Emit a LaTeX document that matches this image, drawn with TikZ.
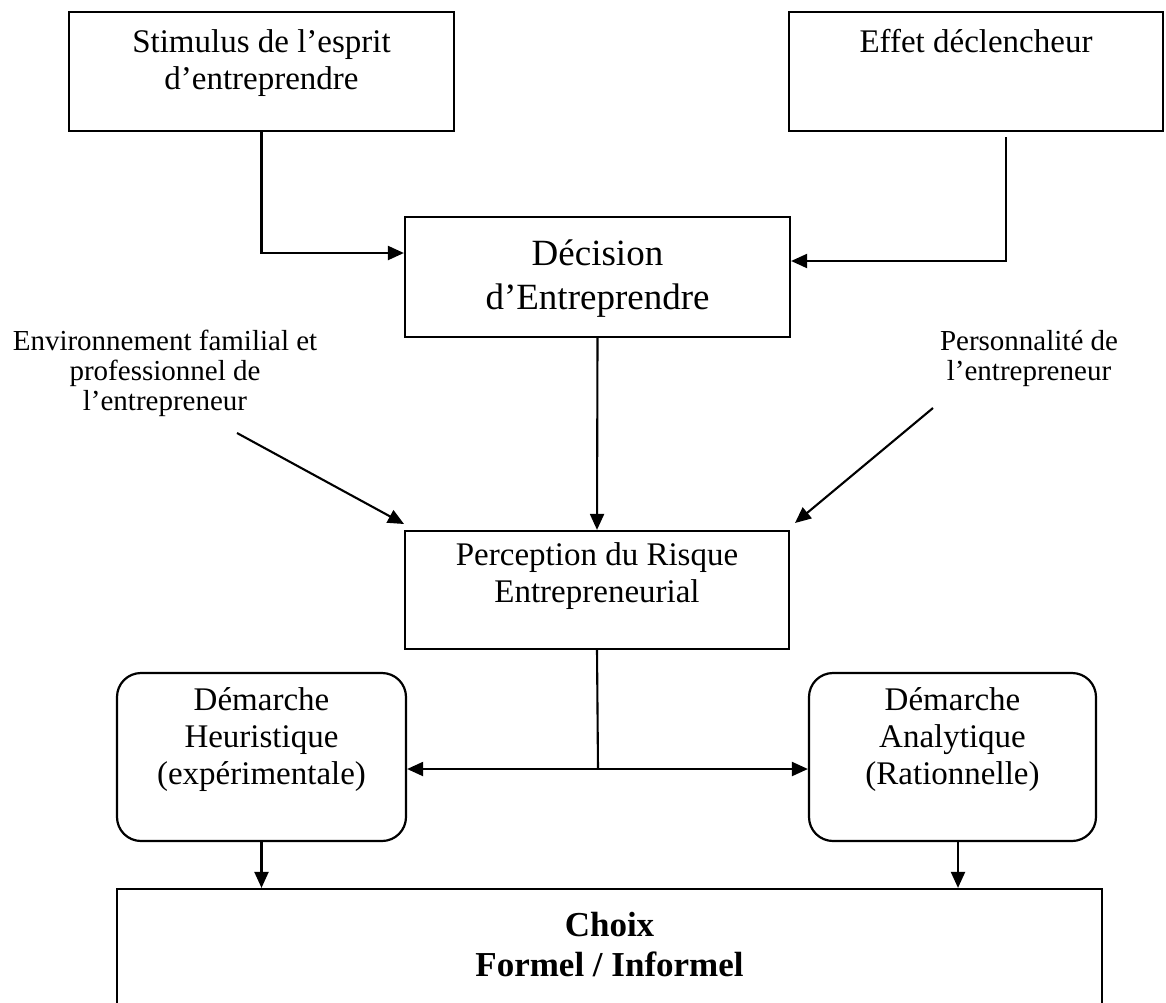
\documentclass[tikz,border=0pt]{standalone}
\usepackage{fontspec}
\setmainfont{Liberation Serif}
\usetikzlibrary{arrows.meta}
\begin{document}
\begin{tikzpicture}[x=1pt,y=-1pt,
  >={Triangle[length=16pt,width=14pt]},
  box/.style={draw, line width=2.2pt, inner sep=0pt},
  rbox/.style={box, rounded corners=24pt},
  txt/.style={inner sep=0pt, align=center, font=\fontsize{33}{37}\selectfont},
  bigtxt/.style={inner sep=0pt, align=center, font=\fontsize{37}{44}\selectfont},
  sidetxt/.style={inner sep=0pt, align=center, font=\fontsize{29}{30}\selectfont},
  boldtxt/.style={inner sep=0pt, align=center, font=\bfseries\fontsize{35}{40}\selectfont},
  conn/.style={line width=2.1pt},
  arr/.style={conn, ->}
]
\path[use as bounding box, clip] (0,0) rectangle (1166,1002);

% boxes
\node[box, minimum width=385pt, minimum height=119pt] (s1) at (261.5,71.5) {};
\node[box, minimum width=374pt, minimum height=119pt] (b2) at (976,71.5) {};
\node[box, minimum width=385pt, minimum height=120pt] (dec) at (597.5,277) {};
\node[box, minimum width=384pt, minimum height=118pt] (per) at (597,590) {};
\node[rbox, minimum width=289pt, minimum height=168pt] (heu) at (261.5,757) {};
\node[rbox, minimum width=287pt, minimum height=168pt] (ana) at (952.5,757) {};
\node[box, minimum width=985pt, minimum height=121pt] (choix) at (609.5,949.5) {};

% texts
\node[txt] (t1) at (261.5,63) {Stimulus de l’esprit\\d’entreprendre};
\node[txt, anchor=base] (t2) at (976,52) {Effet déclencheur};
\node[bigtxt] (tdec) at (597.5,279) {Décision\\d’Entreprendre};
\node[sidetxt] (tenv) at (165,373) {Environnement familial et\\professionnel de\\l’entrepreneur};
\node[sidetxt] (tpers) at (1029,358) {Personnalité de\\l’entrepreneur};
\node[txt] (tper) at (597,576) {Perception du Risque\\Entrepreneurial};
\node[txt] (theu) at (261.5,740) {Démarche\\Heuristique\\(expérimentale)};
\node[txt] (tana) at (952.5,740) {Démarche\\Analytique\\(Rationnelle)};
\node[boldtxt] (tch) at (609.5,945) {Choix\\Formel / Informel};

% helper coordinates
\coordinate (k1) at (261,253);
\coordinate (e1) at (1006,137);
\coordinate (k2) at (1006,261);
\coordinate (envs) at (237,433);
\coordinate (enve) at (404,524);
\coordinate (perss) at (933,408);
\coordinate (perse) at (795,523);
\coordinate (split) at (598,769);
\coordinate (xa) at (958,0);

% connectors
\draw[arr] (s1.south) |- (k1 -| dec.west);
\draw[arr] (e1) |- (k2 -| dec.east);
\draw[arr] (dec.south) -- (per.north);
\draw[arr] (envs) -- (enve);
\draw[arr] (perss) -- (perse);
\draw[conn] (per.south) -- (split);
\draw[conn, <->] (split -| heu.east) -- (split -| ana.west);
\draw[arr] (heu.south) -- (heu.south |- choix.north);
\draw[arr] (ana.south -| xa) -- (choix.north -| xa);
\end{tikzpicture}
\end{document}
